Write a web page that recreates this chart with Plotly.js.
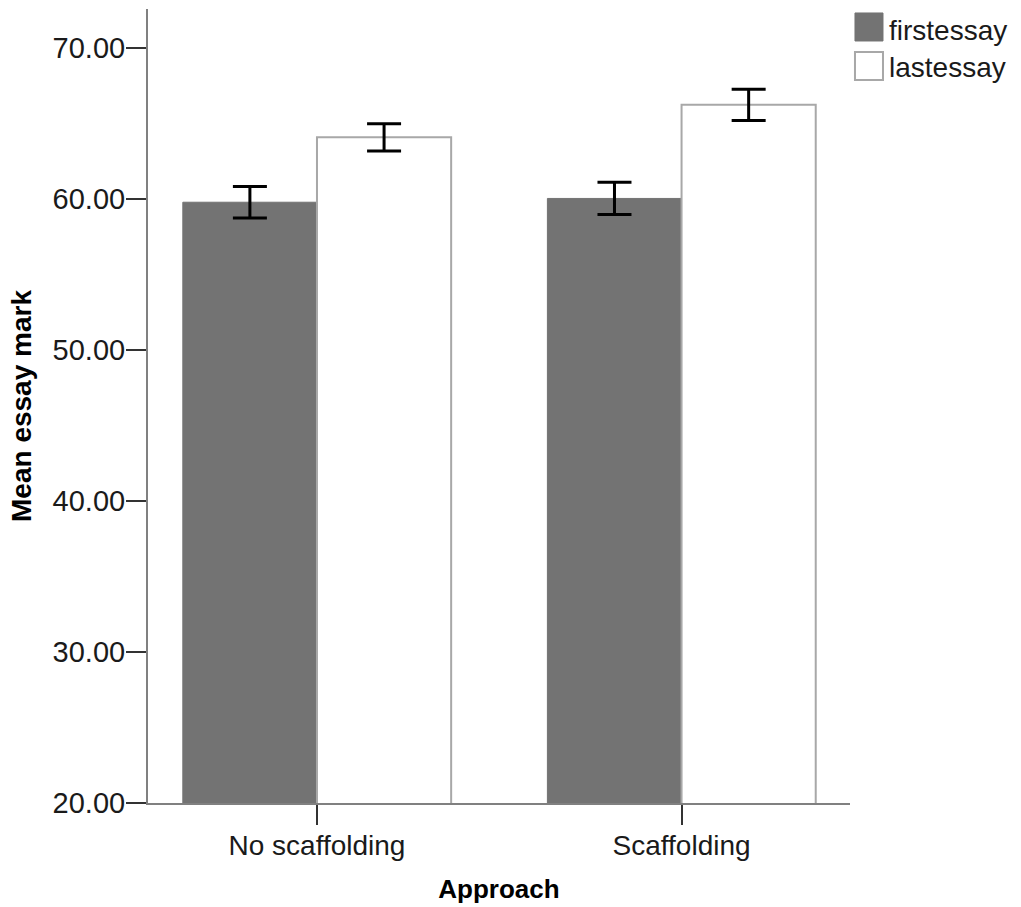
<!DOCTYPE html>
<html>
<head>
<meta charset="utf-8">
<script src="https://cdn.plot.ly/plotly-3.0.1.min.js"></script>
<style>html,body{margin:0;padding:0;background:#fff;}#chart{width:1021px;height:907px;}</style>
</head>
<body>
<div id="chart"></div>
<script>
const categories = ["No scaffolding", "Scaffolding"];
const seriesNames = ["firstessay", "lastessay"];
const firstMeans = [59.8, 60.05];
const firstErr = [1.04, 1.07];
const lastMeans = [64.1, 66.25];
const lastErr = [0.9, 1.03];
const yTickVals = [20, 30, 40, 50, 60, 70];
const yTickText = ["20.00", "30.00", "40.00", "50.00", "60.00", "70.00"];

const font = "Liberation Sans, Arial, sans-serif";
const darkFill = "#737373";
const outline = "#a8a8a8";

const traces = [
  {
    type: "bar", name: seriesNames[0], x: categories, y: firstMeans,
    marker: {color: darkFill, line: {color: darkFill, width: 1}},
    error_y: {type: "data", array: firstErr, visible: true, color: "#000", thickness: 3, width: 17},
    showlegend: false
  },
  {
    type: "bar", name: seriesNames[1], x: categories, y: lastMeans,
    marker: {color: "#ffffff", line: {color: outline, width: 2}},
    error_y: {type: "data", array: lastErr, visible: true, color: "#000", thickness: 3, width: 17},
    showlegend: false
  }
];

const layout = {
  width: 1021, height: 907,
  margin: {l: 148, r: 171, t: 9, b: 104},
  paper_bgcolor: "#fff", plot_bgcolor: "#fff",
  font: {family: font, color: "#222", size: 29},
  barmode: "group", bargap: 0.264, bargroupgap: 0,
  showlegend: false,
  xaxis: {
    type: "category", range: [-0.4635, 1.462],
    showline: true, linecolor: "#808080", linewidth: 2,
    ticks: "outside", ticklen: 20, tickwidth: 2, tickcolor: "#333",
    ticklabelstandoff: -4,
    showgrid: false, zeroline: false,
    tickfont: {family: font, size: 28, color: "#1a1a1a"},
    title: {text: "Approach", font: {family: font, size: 26, color: "#000", weight: "bold"}, standoff: 20}
  },
  yaxis: {
    range: [20, 72.6], tickvals: yTickVals, ticktext: yTickText,
    showline: true, linecolor: "#808080", linewidth: 2,
    ticks: "outside", ticklen: 20, tickwidth: 2, tickcolor: "#333",
    ticklabelstandoff: -5,
    showgrid: false, zeroline: false,
    tickfont: {family: font, size: 29, color: "#1a1a1a"},
    title: {text: "Mean essay mark", font: {family: font, size: 28, color: "#000", weight: "bold"}, standoff: 13}
  },
  shapes: [
    {type: "rect", xref: "paper", yref: "paper", x0: 1.0071, x1: 1.047, y0: 0.9597, y1: 0.995,
     fillcolor: darkFill, line: {color: darkFill, width: 1}},
    {type: "rect", xref: "paper", yref: "paper", x0: 1.0071, x1: 1.047, y0: 0.9106, y1: 0.9458,
     fillcolor: "#fff", line: {color: outline, width: 2}}
  ],
  annotations: [
    {xref: "paper", yref: "paper", x: 1.0527, y: 0.9725, xanchor: "left", yanchor: "middle",
     text: seriesNames[0], showarrow: false, font: {family: font, size: 28, color: "#1a1a1a"}},
    {xref: "paper", yref: "paper", x: 1.0527, y: 0.9259, xanchor: "left", yanchor: "middle",
     text: seriesNames[1], showarrow: false, font: {family: font, size: 28, color: "#1a1a1a"}}
  ]
};

Plotly.newPlot("chart", traces, layout, {displayModeBar: false, staticPlot: true});
</script>
</body>
</html>
